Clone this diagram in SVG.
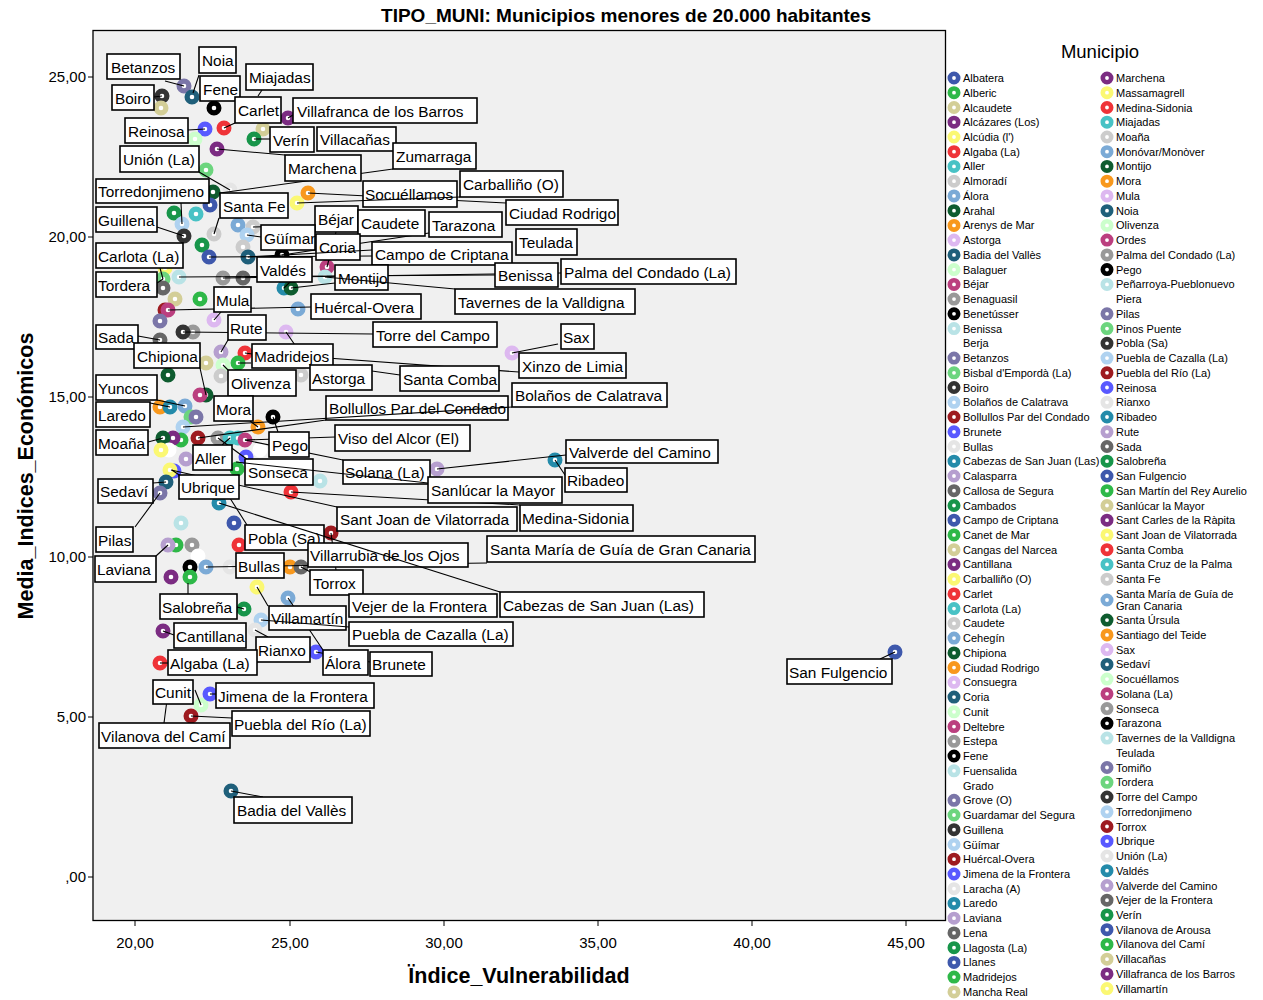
<svg xmlns="http://www.w3.org/2000/svg" width="1263" height="1000" viewBox="0 0 1263 1000">
<style>
text{font-family:"Liberation Sans",Arial,sans-serif;fill:#000}
.title{font-size:19px;font-weight:bold}
.axt{font-size:21.5px;font-weight:bold}
.tick{font-size:15px}
.lg{font-size:11px}
.lgt{font-size:18.5px}
.pt circle{fill:#fff;stroke-width:5.2}
.lgm circle{fill:#fff;stroke-width:4.6}
.lab rect{fill:#fff;stroke:#000;stroke-width:1.6}
.lab text{font-size:15.4px}
.con line{stroke:#000;stroke-width:1.1}
.c0{stroke:#3E58AC}.c1{stroke:#2EB848}.c2{stroke:#D3CE97}.c3{stroke:#7B2C82}.c4{stroke:#FBF873}
.c5{stroke:#EF3338}.c6{stroke:#48C2C5}.c7{stroke:#CCCCCC}.c8{stroke:#7BAAD6}.c9{stroke:#0E5C2F}
.c10{stroke:#F8981D}.c11{stroke:#DDB8F0}.c12{stroke:#1F5F7A}.c13{stroke:#CCFFCC}.c14{stroke:#BB3F7F}
.c15{stroke:#999999}.c16{stroke:#000000}.c17{stroke:#B9E3E6}.c18{stroke:#FFFFFF}.c19{stroke:#7B76A8}
.c20{stroke:#6CD57E}.c21{stroke:#333333}.c22{stroke:#AFD2F0}.c23{stroke:#9E1B20}.c24{stroke:#5959FF}
.c25{stroke:#E5E5E5}.c26{stroke:#248BAA}.c27{stroke:#B69FCF}.c28{stroke:#666666}.c29{stroke:#17954A}
</style>
<rect x="0" y="0" width="1263" height="1000" fill="#fff"/>
<text class="title" x="626" y="22" text-anchor="middle">TIPO_MUNI: Municipios menores de 20.000 habitantes</text>
<g id="frame">
<rect x="93" y="30.5" width="852.5" height="890" fill="#F0F0F0" stroke="#000" stroke-width="1.3"/>
<g stroke="#000" stroke-width="1">
<line x1="88" y1="77" x2="93" y2="77"/><line x1="88" y1="237" x2="93" y2="237"/><line x1="88" y1="397" x2="93" y2="397"/>
<line x1="88" y1="557" x2="93" y2="557"/><line x1="88" y1="717" x2="93" y2="717"/><line x1="88" y1="877" x2="93" y2="877"/>
<line x1="135" y1="921" x2="135" y2="926"/><line x1="290" y1="921" x2="290" y2="926"/><line x1="444" y1="921" x2="444" y2="926"/>
<line x1="598" y1="921" x2="598" y2="926"/><line x1="752" y1="921" x2="752" y2="926"/><line x1="906" y1="921" x2="906" y2="926"/>
</g>
<g class="tick" text-anchor="end">
<text x="86" y="82">25,00</text><text x="86" y="242">20,00</text><text x="86" y="402">15,00</text>
<text x="86" y="562">10,00</text><text x="86" y="722">5,00</text><text x="86" y="882">,00</text>
</g>
<g class="tick" text-anchor="middle">
<text x="135" y="948">20,00</text><text x="290" y="948">25,00</text><text x="444" y="948">30,00</text>
<text x="598" y="948">35,00</text><text x="752" y="948">40,00</text><text x="906" y="948">45,00</text>
</g>
<text class="axt" x="519" y="983" text-anchor="middle">Ïndice_Vulnerabilidad</text>
<text class="axt" x="0" y="0" text-anchor="middle" transform="translate(33,476) rotate(-90)">Media_Indices_Económicos</text>
</g>
<g id="points" class="pt">
<circle cx="184" cy="86" r="4.9" class="c19"/><circle cx="192" cy="97" r="4.9" class="c12"/><circle cx="162" cy="96" r="4.9" class="c21"/>
<circle cx="161" cy="108" r="4.9" class="c2"/><circle cx="214" cy="108" r="4.9" class="c16"/><circle cx="205" cy="129" r="4.9" class="c24"/>
<circle cx="224" cy="128" r="4.9" class="c5"/><circle cx="195" cy="139" r="4.9" class="c13"/><circle cx="263" cy="129" r="4.9" class="c2"/>
<circle cx="254" cy="139" r="4.9" class="c29"/><circle cx="288" cy="118" r="4.9" class="c3"/><circle cx="217" cy="149" r="4.9" class="c3"/>
<circle cx="206" cy="170" r="4.9" class="c20"/><circle cx="230" cy="190" r="4.9" class="c25"/><circle cx="213" cy="192" r="4.9" class="c9"/>
<circle cx="210" cy="205" r="4.9" class="c0"/><circle cx="174" cy="213" r="4.9" class="c29"/><circle cx="196" cy="214" r="4.9" class="c6"/>
<circle cx="182" cy="224" r="4.9" class="c22"/><circle cx="184" cy="236" r="4.9" class="c21"/><circle cx="214" cy="234" r="4.9" class="c7"/>
<circle cx="238" cy="225" r="4.9" class="c8"/><circle cx="253" cy="227" r="4.9" class="c7"/><circle cx="247" cy="235" r="4.9" class="c22"/>
<circle cx="243" cy="247" r="4.9" class="c7"/><circle cx="248" cy="257" r="4.9" class="c12"/><circle cx="282" cy="255" r="4.9" class="c16"/>
<circle cx="202" cy="245" r="4.9" class="c29"/><circle cx="209" cy="257" r="4.9" class="c0"/><circle cx="297" cy="203" r="4.9" class="c4"/>
<circle cx="308" cy="193" r="4.9" class="c10"/><circle cx="327" cy="267" r="4.9" class="c14"/><circle cx="325" cy="277" r="4.9" class="c17"/>
<circle cx="284" cy="288" r="4.9" class="c26"/><circle cx="291" cy="288" r="4.9" class="c9"/><circle cx="223" cy="278" r="4.9" class="c15"/>
<circle cx="243" cy="278" r="4.9" class="c28"/><circle cx="179" cy="277" r="4.9" class="c17"/><circle cx="165" cy="268" r="4.9" class="c4"/>
<circle cx="163" cy="279" r="4.9" class="c20"/><circle cx="163" cy="288" r="4.9" class="c28"/><circle cx="175" cy="299" r="4.9" class="c2"/>
<circle cx="200" cy="299" r="4.9" class="c1"/><circle cx="165" cy="310" r="4.9" class="c23"/><circle cx="168" cy="310" r="4.9" class="c14"/>
<circle cx="160" cy="321" r="4.9" class="c19"/><circle cx="214" cy="320" r="4.9" class="c11"/><circle cx="298" cy="309" r="4.9" class="c8"/>
<circle cx="193" cy="332" r="4.9" class="c15"/><circle cx="183" cy="332" r="4.9" class="c21"/><circle cx="160" cy="340" r="4.9" class="c28"/>
<circle cx="286" cy="332" r="4.9" class="c11"/><circle cx="221" cy="352" r="4.9" class="c27"/><circle cx="245" cy="353" r="4.9" class="c5"/>
<circle cx="238" cy="363" r="4.9" class="c1"/><circle cx="223" cy="365" r="4.9" class="c13"/><circle cx="206" cy="363" r="4.9" class="c2"/>
<circle cx="221" cy="376" r="4.9" class="c7"/><circle cx="301" cy="375" r="4.9" class="c7"/><circle cx="168" cy="375" r="4.9" class="c9"/>
<circle cx="206" cy="395" r="4.9" class="c9"/><circle cx="200" cy="395" r="4.9" class="c14"/><circle cx="160" cy="407" r="4.9" class="c10"/>
<circle cx="170" cy="407" r="4.9" class="c26"/><circle cx="185" cy="406" r="4.9" class="c8"/><circle cx="191" cy="417" r="4.9" class="c20"/>
<circle cx="196" cy="417" r="4.9" class="c19"/><circle cx="183" cy="427" r="4.9" class="c22"/><circle cx="258" cy="427" r="4.9" class="c10"/>
<circle cx="273" cy="417" r="4.9" class="c16"/><circle cx="218" cy="438" r="4.9" class="c15"/><circle cx="230" cy="438" r="4.9" class="c6"/>
<circle cx="238" cy="438" r="4.9" class="c6"/><circle cx="245" cy="440" r="4.9" class="c14"/><circle cx="198" cy="438" r="4.9" class="c23"/>
<circle cx="181" cy="440" r="4.9" class="c1"/><circle cx="173" cy="438" r="4.9" class="c3"/><circle cx="163" cy="438" r="4.9" class="c9"/>
<circle cx="169" cy="450" r="4.9" class="c18"/><circle cx="161" cy="450" r="4.9" class="c4"/><circle cx="186" cy="459" r="4.9" class="c27"/>
<circle cx="246" cy="457" r="4.9" class="c24"/><circle cx="260" cy="450" r="4.9" class="c18"/><circle cx="237" cy="469" r="4.9" class="c1"/>
<circle cx="174" cy="471" r="4.9" class="c24"/><circle cx="170" cy="470" r="4.9" class="c4"/><circle cx="166" cy="482" r="4.9" class="c12"/>
<circle cx="160" cy="493" r="4.9" class="c19"/><circle cx="320" cy="481" r="4.9" class="c17"/><circle cx="291" cy="492" r="4.9" class="c5"/>
<circle cx="219" cy="503" r="4.9" class="c26"/><circle cx="234" cy="523" r="4.9" class="c0"/><circle cx="181" cy="523" r="4.9" class="c17"/>
<circle cx="331" cy="533" r="4.9" class="c23"/><circle cx="239" cy="545" r="4.9" class="c5"/><circle cx="176" cy="545" r="4.9" class="c1"/>
<circle cx="168" cy="545" r="4.9" class="c27"/><circle cx="192" cy="545" r="4.9" class="c15"/><circle cx="198" cy="556" r="4.9" class="c18"/>
<circle cx="190" cy="567" r="4.9" class="c16"/><circle cx="206" cy="567" r="4.9" class="c8"/><circle cx="230" cy="567" r="4.9" class="c25"/>
<circle cx="290" cy="567" r="4.9" class="c10"/><circle cx="301" cy="567" r="4.9" class="c28"/><circle cx="171" cy="577" r="4.9" class="c3"/>
<circle cx="190" cy="577" r="4.9" class="c1"/><circle cx="257" cy="587" r="4.9" class="c4"/><circle cx="288" cy="598" r="4.9" class="c8"/>
<circle cx="244" cy="609" r="4.9" class="c29"/><circle cx="261" cy="620" r="4.9" class="c22"/><circle cx="255" cy="630" r="4.9" class="c25"/>
<circle cx="163" cy="631" r="4.9" class="c3"/><circle cx="316" cy="652" r="4.9" class="c24"/><circle cx="160" cy="663" r="4.9" class="c5"/>
<circle cx="201" cy="705" r="4.9" class="c13"/><circle cx="210" cy="694" r="4.9" class="c24"/><circle cx="191" cy="716" r="4.9" class="c23"/>
<circle cx="231" cy="791" r="4.9" class="c12"/><circle cx="895" cy="652" r="4.9" class="c0"/><circle cx="555" cy="460" r="4.9" class="c26"/>
<circle cx="437" cy="469" r="4.9" class="c27"/><circle cx="512" cy="353" r="4.9" class="c11"/>
</g>
<g id="connectors" class="con">
<line x1="165" y1="81" x2="184" y2="86"/><line x1="199" y1="75" x2="193" y2="93"/><line x1="154" y1="97" x2="162" y2="96"/>
<line x1="262" y1="90" x2="258" y2="96"/><line x1="235" y1="123" x2="224" y2="128"/><line x1="288" y1="118" x2="293" y2="115"/>
<line x1="188" y1="130" x2="205" y2="129"/><line x1="270" y1="139" x2="254" y2="139"/><line x1="217" y1="149" x2="285" y2="155"/>
<line x1="220" y1="193" x2="393" y2="169"/><line x1="199" y1="172" x2="230" y2="190"/><line x1="181" y1="203" x2="182" y2="224"/>
<line x1="219" y1="218" x2="214" y2="234"/><line x1="157" y1="227" x2="184" y2="236"/><line x1="261" y1="237" x2="247" y2="235"/>
<line x1="336" y1="232" x2="327" y2="267"/><line x1="308" y1="193" x2="506" y2="203"/><line x1="253" y1="227" x2="358" y2="224"/>
<line x1="282" y1="255" x2="429" y2="233"/><line x1="209" y1="257" x2="372" y2="256"/><line x1="160" y1="268" x2="163" y2="279"/>
<line x1="284" y1="288" x2="290" y2="282"/><line x1="179" y1="277" x2="495" y2="275"/><line x1="223" y1="278" x2="561" y2="273"/>
<line x1="291" y1="288" x2="335" y2="283"/><line x1="157" y1="283" x2="163" y2="279"/><line x1="221" y1="312" x2="214" y2="320"/>
<line x1="168" y1="310" x2="311" y2="307"/><line x1="228" y1="340" x2="221" y2="352"/><line x1="183" y1="332" x2="373" y2="334"/>
<line x1="558" y1="344" x2="512" y2="353"/><line x1="138" y1="336" x2="160" y2="340"/><line x1="200" y1="368" x2="206" y2="395"/>
<line x1="251" y1="363" x2="238" y2="363"/><line x1="300" y1="356" x2="519" y2="372"/><line x1="286" y1="332" x2="310" y2="367"/>
<line x1="245" y1="353" x2="400" y2="375"/><line x1="228" y1="370" x2="223" y2="365"/><line x1="157" y1="400" x2="185" y2="406"/>
<line x1="150" y1="403" x2="170" y2="407"/><line x1="250" y1="421" x2="258" y2="427"/><line x1="148" y1="442" x2="163" y2="438"/>
<line x1="198" y1="438" x2="326" y2="420"/><line x1="273" y1="417" x2="278" y2="432"/><line x1="245" y1="440" x2="335" y2="437"/>
<line x1="437" y1="469" x2="566" y2="455"/><line x1="555" y1="460" x2="565" y2="475"/><line x1="222" y1="445" x2="230" y2="438"/>
<line x1="218" y1="438" x2="248" y2="460"/><line x1="245" y1="440" x2="343" y2="460"/><line x1="172" y1="470" x2="182" y2="477"/>
<line x1="153" y1="483" x2="166" y2="482"/><line x1="171" y1="470" x2="337" y2="507"/><line x1="291" y1="492" x2="520" y2="505"/>
<line x1="228" y1="495" x2="247" y2="525"/><line x1="135" y1="527" x2="160" y2="493"/><line x1="206" y1="567" x2="487" y2="563"/>
<line x1="156" y1="556" x2="168" y2="545"/><line x1="331" y1="533" x2="336" y2="570"/><line x1="301" y1="567" x2="352" y2="594"/>
<line x1="188" y1="583" x2="188" y2="594"/><line x1="257" y1="587" x2="268" y2="606"/><line x1="255" y1="630" x2="268" y2="637"/>
<line x1="163" y1="631" x2="174" y2="635"/><line x1="160" y1="663" x2="168" y2="663"/><line x1="288" y1="598" x2="323" y2="650"/>
<line x1="316" y1="652" x2="370" y2="662"/><line x1="195" y1="690" x2="201" y2="705"/><line x1="210" y1="694" x2="216" y2="694"/>
<line x1="191" y1="716" x2="232" y2="718"/><line x1="167" y1="700" x2="164" y2="723"/><line x1="231" y1="791" x2="263" y2="797"/>
<line x1="895" y1="652" x2="880" y2="659"/><line x1="244" y1="609" x2="237" y2="607"/>
</g>
<g id="labels" class="lab">
<g id="l-betanzos"><rect x="107" y="54" width="73" height="25"/><text x="111" y="72.5">Betanzos</text></g>
<g id="l-noia"><rect x="199" y="47" width="37" height="26"/><text x="202" y="66">Noia</text></g>
<g id="l-fene"><rect x="200" y="76" width="40" height="25"/><text x="203" y="94.5">Fene</text></g>
<g id="l-miajadas"><rect x="246" y="64" width="67" height="26"/><text x="249" y="83">Miajadas</text></g>
<g id="l-boiro"><rect x="112" y="85" width="42" height="25"/><text x="115" y="103.5">Boiro</text></g>
<g id="l-carlet"><rect x="235" y="97" width="46" height="26"/><text x="238" y="116">Carlet</text></g>
<g id="l-villafranca"><rect x="293" y="98" width="184" height="25"/><text x="297" y="116.5">Villafranca de los Barros</text></g>
<g id="l-reinosa"><rect x="125" y="118" width="63" height="25"/><text x="128" y="136.5">Reinosa</text></g>
<g id="l-verin"><rect x="270" y="127" width="44" height="25"/><text x="273" y="145.5">Verín</text></g>
<g id="l-villacanas"><rect x="317" y="127" width="79" height="24"/><text x="320" y="145">Villacañas</text></g>
<g id="l-zumarraga"><rect x="393" y="143" width="83" height="26"/><text x="396" y="162">Zumarraga</text></g>
<g id="l-union"><rect x="120" y="146" width="79" height="26"/><text x="123" y="165">Unión (La)</text></g>
<g id="l-marchena"><rect x="285" y="155" width="76" height="26"/><text x="288" y="174">Marchena</text></g>
<g id="l-carballino"><rect x="460" y="171" width="103" height="26"/><text x="463" y="190">Carballiño (O)</text></g>
<g id="l-torredonjimeno"><rect x="96" y="179" width="113" height="24"/><text x="98" y="197">Torredonjimeno</text></g>
<g id="l-socuellamos"><rect x="363" y="181" width="94" height="26"/><text x="365" y="200">Socuéllamos</text></g>
<g id="l-santafe"><rect x="220" y="193" width="68" height="25"/><text x="223" y="211.5">Santa Fe</text></g>
<g id="l-ciudadrodrigo"><rect x="506" y="200" width="112" height="25"/><text x="509" y="218.5">Ciudad Rodrigo</text></g>
<g id="l-bejar"><rect x="315" y="206" width="43" height="26"/><text x="318" y="225">Béjar</text></g>
<g id="l-guillena"><rect x="96" y="207" width="61" height="25"/><text x="98" y="225.5">Guillena</text></g>
<g id="l-caudete"><rect x="358" y="210" width="67" height="26"/><text x="361" y="229">Caudete</text></g>
<g id="l-tarazona"><rect x="429" y="212" width="73" height="25"/><text x="432" y="230.5">Tarazona</text></g>
<g id="l-guimar"><rect x="261" y="225" width="54" height="25"/><text x="264" y="243.5">Güímar</text></g>
<g id="l-teulada"><rect x="516" y="229" width="61" height="26"/><text x="519" y="248">Teulada</text></g>
<g id="l-coria"><rect x="316" y="234" width="44" height="26"/><text x="319" y="253">Coria</text></g>
<g id="l-campo"><rect x="372" y="242" width="140" height="23"/><text x="375" y="259.5">Campo de Criptana</text></g>
<g id="l-carlota"><rect x="96" y="243" width="87" height="25"/><text x="98" y="261.5">Carlota (La)</text></g>
<g id="l-valdes"><rect x="257" y="257" width="55" height="25"/><text x="260" y="275.5">Valdés</text></g>
<g id="l-palma"><rect x="561" y="259" width="175" height="25"/><text x="564" y="277.5">Palma del Condado (La)</text></g>
<g id="l-benissa"><rect x="495" y="263" width="63" height="24"/><text x="498" y="281">Benissa</text></g>
<g id="l-montijo"><rect x="335" y="265" width="53" height="25"/><text x="338" y="283.5">Montijo</text></g>
<g id="l-tordera"><rect x="96" y="272" width="61" height="25"/><text x="98" y="290.5">Tordera</text></g>
<g id="l-mula"><rect x="214" y="287" width="37" height="25"/><text x="216" y="305.5">Mula</text></g>
<g id="l-tavernes"><rect x="455" y="289" width="180" height="25"/><text x="458" y="307.5">Tavernes de la Valldigna</text></g>
<g id="l-huercal"><rect x="311" y="294" width="110" height="25"/><text x="314" y="312.5">Huércal-Overa</text></g>
<g id="l-rute"><rect x="228" y="315" width="38" height="25"/><text x="230" y="333.5">Rute</text></g>
<g id="l-torredelcampo"><rect x="373" y="322" width="124" height="25"/><text x="376" y="340.5">Torre del Campo</text></g>
<g id="l-sax"><rect x="561" y="324" width="33" height="25"/><text x="563" y="342.5">Sax</text></g>
<g id="l-sada"><rect x="96" y="325" width="42" height="24"/><text x="98" y="343">Sada</text></g>
<g id="l-chipiona"><rect x="134" y="343" width="66" height="25"/><text x="137" y="361.5">Chipiona</text></g>
<g id="l-madridejos"><rect x="252" y="344" width="81" height="24"/><text x="254" y="362">Madridejos</text></g>
<g id="l-xinzo"><rect x="519" y="353" width="107" height="25"/><text x="522" y="371.5">Xinzo de Limia</text></g>
<g id="l-astorga"><rect x="310" y="365" width="62" height="25"/><text x="312" y="383.5">Astorga</text></g>
<g id="l-santacomba"><rect x="400" y="366" width="99" height="25"/><text x="403" y="384.5">Santa Comba</text></g>
<g id="l-olivenza"><rect x="228" y="370" width="68" height="26"/><text x="231" y="389">Olivenza</text></g>
<g id="l-yuncos"><rect x="96" y="375" width="61" height="25"/><text x="98" y="393.5">Yuncos</text></g>
<g id="l-bolanos"><rect x="512" y="383" width="155" height="24"/><text x="515" y="401">Bolaños de Calatrava</text></g>
<g id="l-bollullos"><rect x="326" y="396" width="182" height="24"/><text x="329" y="414">Bollullos Par del Condado</text></g>
<g id="l-mora"><rect x="214" y="396" width="39" height="25"/><text x="216" y="414.5">Mora</text></g>
<g id="l-laredo"><rect x="96" y="402" width="54" height="25"/><text x="98" y="420.5">Laredo</text></g>
<g id="l-viso"><rect x="335" y="425" width="135" height="26"/><text x="338" y="444">Viso del Alcor (El)</text></g>
<g id="l-moana"><rect x="96" y="430" width="52" height="25"/><text x="98" y="448.5">Moaña</text></g>
<g id="l-pego"><rect x="269" y="432" width="40" height="25"/><text x="272" y="450.5">Pego</text></g>
<g id="l-valverde"><rect x="566" y="440" width="152" height="23"/><text x="569" y="457.5">Valverde del Camino</text></g>
<g id="l-aller"><rect x="193" y="445" width="39" height="25"/><text x="195" y="463.5">Aller</text></g>
<g id="l-sonseca"><rect x="245" y="459" width="68" height="26"/><text x="248" y="478">Sonseca</text></g>
<g id="l-solana"><rect x="343" y="460" width="87" height="24"/><text x="345" y="478">Solana (La)</text></g>
<g id="l-ribadeo"><rect x="565" y="468" width="62" height="24"/><text x="567" y="486">Ribadeo</text></g>
<g id="l-ubrique"><rect x="179" y="475" width="60" height="24"/><text x="181" y="493">Ubrique</text></g>
<g id="l-sedavi"><rect x="98" y="479" width="55" height="24"/><text x="100" y="497">Sedaví</text></g>
<g id="l-sanlucar"><rect x="428" y="477" width="134" height="26"/><text x="431" y="496">Sanlúcar la Mayor</text></g>
<g id="l-santjoan"><rect x="337" y="507" width="180" height="24"/><text x="340" y="525">Sant Joan de Vilatorrada</text></g>
<g id="l-medina"><rect x="520" y="505" width="113" height="26"/><text x="522" y="524">Medina-Sidonia</text></g>
<g id="l-pobla"><rect x="245" y="525" width="79" height="25"/><text x="248" y="543.5">Pobla (Sa)</text></g>
<g id="l-pilas"><rect x="96" y="527" width="37" height="25"/><text x="98" y="545.5">Pilas</text></g>
<g id="l-santamaria"><rect x="487" y="536" width="268" height="26"/><text x="490" y="555">Santa María de Guía de Gran Canaria</text></g>
<g id="l-villarrubia"><rect x="308" y="543" width="160" height="24"/><text x="310" y="561">Villarrubia de los Ojos</text></g>
<g id="l-bullas"><rect x="236" y="553" width="48" height="25"/><text x="238" y="571.5">Bullas</text></g>
<g id="l-laviana"><rect x="95" y="556" width="61" height="26"/><text x="97" y="575">Laviana</text></g>
<g id="l-torrox"><rect x="310" y="570" width="53" height="25"/><text x="313" y="588.5">Torrox</text></g>
<g id="l-cabezas"><rect x="500" y="592" width="204" height="25"/><text x="503" y="610.5">Cabezas de San Juan (Las)</text></g>
<g id="l-vejer"><rect x="349" y="594" width="148" height="23"/><text x="352" y="611.5">Vejer de la Frontera</text></g>
<g id="l-salobrena"><rect x="160" y="594" width="77" height="25"/><text x="162" y="612.5">Salobreña</text></g>
<g id="l-villamartin"><rect x="269" y="606" width="77" height="24"/><text x="271" y="624">Villamartín</text></g>
<g id="l-pueblacazalla"><rect x="349" y="622" width="164" height="24"/><text x="352" y="640">Puebla de Cazalla (La)</text></g>
<g id="l-cantillana"><rect x="174" y="623" width="72" height="25"/><text x="176" y="641.5">Cantillana</text></g>
<g id="l-rianxo"><rect x="256" y="637" width="54" height="25"/><text x="258" y="655.5">Rianxo</text></g>
<g id="l-alora"><rect x="323" y="650" width="45" height="25"/><text x="325" y="668.5">Álora</text></g>
<g id="l-brunete"><rect x="370" y="652" width="62" height="24"/><text x="372" y="670">Brunete</text></g>
<g id="l-algaba"><rect x="168" y="650" width="89" height="25"/><text x="170" y="668.5">Algaba (La)</text></g>
<g id="l-sanfulgencio"><rect x="787" y="659" width="105" height="25"/><text x="789" y="677.5">San Fulgencio</text></g>
<g id="l-cunit"><rect x="153" y="680" width="40" height="24"/><text x="155" y="698">Cunit</text></g>
<g id="l-jimena"><rect x="216" y="683" width="158" height="25"/><text x="218" y="701.5">Jimena de la Frontera</text></g>
<g id="l-pueblario"><rect x="232" y="711" width="138" height="25"/><text x="234" y="729.5">Puebla del Río (La)</text></g>
<g id="l-vilanovacami"><rect x="99" y="723" width="131" height="25"/><text x="101" y="741.5">Vilanova del Camí</text></g>
<g id="l-badia"><rect x="234" y="797" width="118" height="26"/><text x="237" y="816">Badia del Vallès</text></g>
</g>
<g id="connectors-over" class="con">
<line x1="297" y1="203" x2="460" y2="197"/><line x1="183" y1="427" x2="512" y2="407"/><line x1="325" y1="277" x2="455" y2="289"/>
<line x1="261" y1="620" x2="349" y2="627"/><line x1="219" y1="503" x2="500" y2="592"/><line x1="236" y1="462" x2="428" y2="483"/>
<line x1="248" y1="257" x2="372" y2="250"/>
</g>
<g id="legend">
<text class="lgt" x="1100" y="58" text-anchor="middle">Municipio</text>
<g class="lgm">
<circle cx="954" cy="78.0" r="4.2" class="c0"/><circle cx="954" cy="92.7" r="4.2" class="c1"/><circle cx="954" cy="107.5" r="4.2" class="c2"/><circle cx="954" cy="122.2" r="4.2" class="c3"/><circle cx="954" cy="137.0" r="4.2" class="c4"/>
<circle cx="954" cy="151.7" r="4.2" class="c5"/><circle cx="954" cy="166.4" r="4.2" class="c6"/><circle cx="954" cy="181.2" r="4.2" class="c7"/><circle cx="954" cy="195.9" r="4.2" class="c8"/><circle cx="954" cy="210.7" r="4.2" class="c9"/>
<circle cx="954" cy="225.4" r="4.2" class="c10"/><circle cx="954" cy="240.1" r="4.2" class="c11"/><circle cx="954" cy="254.9" r="4.2" class="c12"/><circle cx="954" cy="269.6" r="4.2" class="c13"/><circle cx="954" cy="284.4" r="4.2" class="c14"/>
<circle cx="954" cy="299.1" r="4.2" class="c15"/><circle cx="954" cy="313.8" r="4.2" class="c16"/><circle cx="954" cy="328.6" r="4.2" class="c17"/><circle cx="954" cy="343.3" r="4.2" class="c18"/><circle cx="954" cy="358.1" r="4.2" class="c19"/>
<circle cx="954" cy="372.8" r="4.2" class="c20"/><circle cx="954" cy="387.5" r="4.2" class="c21"/><circle cx="954" cy="402.3" r="4.2" class="c22"/><circle cx="954" cy="417.0" r="4.2" class="c23"/><circle cx="954" cy="431.8" r="4.2" class="c24"/>
<circle cx="954" cy="446.5" r="4.2" class="c25"/><circle cx="954" cy="461.2" r="4.2" class="c26"/><circle cx="954" cy="476.0" r="4.2" class="c27"/><circle cx="954" cy="490.7" r="4.2" class="c28"/><circle cx="954" cy="505.5" r="4.2" class="c29"/>
<circle cx="954" cy="520.2" r="4.2" class="c0"/><circle cx="954" cy="534.9" r="4.2" class="c1"/><circle cx="954" cy="549.7" r="4.2" class="c2"/><circle cx="954" cy="564.4" r="4.2" class="c3"/><circle cx="954" cy="579.2" r="4.2" class="c4"/>
<circle cx="954" cy="593.9" r="4.2" class="c5"/><circle cx="954" cy="608.6" r="4.2" class="c6"/><circle cx="954" cy="623.4" r="4.2" class="c7"/><circle cx="954" cy="638.1" r="4.2" class="c8"/><circle cx="954" cy="652.9" r="4.2" class="c9"/>
<circle cx="954" cy="667.6" r="4.2" class="c10"/><circle cx="954" cy="682.3" r="4.2" class="c11"/><circle cx="954" cy="697.1" r="4.2" class="c12"/><circle cx="954" cy="711.8" r="4.2" class="c13"/><circle cx="954" cy="726.6" r="4.2" class="c14"/>
<circle cx="954" cy="741.3" r="4.2" class="c15"/><circle cx="954" cy="756.0" r="4.2" class="c16"/><circle cx="954" cy="770.8" r="4.2" class="c17"/><circle cx="954" cy="785.5" r="4.2" class="c18"/><circle cx="954" cy="800.3" r="4.2" class="c19"/>
<circle cx="954" cy="815.0" r="4.2" class="c20"/><circle cx="954" cy="829.7" r="4.2" class="c21"/><circle cx="954" cy="844.5" r="4.2" class="c22"/><circle cx="954" cy="859.2" r="4.2" class="c23"/><circle cx="954" cy="874.0" r="4.2" class="c24"/>
<circle cx="954" cy="888.7" r="4.2" class="c25"/><circle cx="954" cy="903.4" r="4.2" class="c26"/><circle cx="954" cy="918.2" r="4.2" class="c27"/><circle cx="954" cy="932.9" r="4.2" class="c28"/><circle cx="954" cy="947.7" r="4.2" class="c29"/>
<circle cx="954" cy="962.4" r="4.2" class="c0"/><circle cx="954" cy="977.1" r="4.2" class="c1"/><circle cx="954" cy="991.9" r="4.2" class="c2"/>
<circle cx="1107" cy="78.0" r="4.2" class="c3"/><circle cx="1107" cy="92.7" r="4.2" class="c4"/><circle cx="1107" cy="107.5" r="4.2" class="c5"/><circle cx="1107" cy="122.2" r="4.2" class="c6"/><circle cx="1107" cy="137.0" r="4.2" class="c7"/>
<circle cx="1107" cy="151.7" r="4.2" class="c8"/><circle cx="1107" cy="166.4" r="4.2" class="c9"/><circle cx="1107" cy="181.2" r="4.2" class="c10"/><circle cx="1107" cy="195.9" r="4.2" class="c11"/><circle cx="1107" cy="210.7" r="4.2" class="c12"/>
<circle cx="1107" cy="225.4" r="4.2" class="c13"/><circle cx="1107" cy="240.1" r="4.2" class="c14"/><circle cx="1107" cy="254.9" r="4.2" class="c15"/><circle cx="1107" cy="269.6" r="4.2" class="c16"/><circle cx="1107" cy="284.4" r="4.2" class="c17"/>
<circle cx="1107" cy="299.1" r="4.2" class="c18"/><circle cx="1107" cy="313.8" r="4.2" class="c19"/><circle cx="1107" cy="328.6" r="4.2" class="c20"/><circle cx="1107" cy="343.3" r="4.2" class="c21"/><circle cx="1107" cy="358.1" r="4.2" class="c22"/>
<circle cx="1107" cy="372.8" r="4.2" class="c23"/><circle cx="1107" cy="387.5" r="4.2" class="c24"/><circle cx="1107" cy="402.3" r="4.2" class="c25"/><circle cx="1107" cy="417.0" r="4.2" class="c26"/><circle cx="1107" cy="431.8" r="4.2" class="c27"/>
<circle cx="1107" cy="446.5" r="4.2" class="c28"/><circle cx="1107" cy="461.2" r="4.2" class="c29"/><circle cx="1107" cy="476.0" r="4.2" class="c0"/><circle cx="1107" cy="490.7" r="4.2" class="c1"/><circle cx="1107" cy="505.5" r="4.2" class="c2"/>
<circle cx="1107" cy="520.2" r="4.2" class="c3"/><circle cx="1107" cy="534.9" r="4.2" class="c4"/><circle cx="1107" cy="549.7" r="4.2" class="c5"/><circle cx="1107" cy="564.4" r="4.2" class="c6"/><circle cx="1107" cy="579.2" r="4.2" class="c7"/>
<circle cx="1107" cy="600.0" r="4.2" class="c8"/><circle cx="1107" cy="620.1" r="4.2" class="c9"/><circle cx="1107" cy="634.9" r="4.2" class="c10"/><circle cx="1107" cy="649.6" r="4.2" class="c11"/><circle cx="1107" cy="664.4" r="4.2" class="c12"/>
<circle cx="1107" cy="679.1" r="4.2" class="c13"/><circle cx="1107" cy="693.8" r="4.2" class="c14"/><circle cx="1107" cy="708.6" r="4.2" class="c15"/><circle cx="1107" cy="723.3" r="4.2" class="c16"/><circle cx="1107" cy="738.1" r="4.2" class="c17"/>
<circle cx="1107" cy="752.8" r="4.2" class="c18"/><circle cx="1107" cy="767.5" r="4.2" class="c19"/><circle cx="1107" cy="782.3" r="4.2" class="c20"/><circle cx="1107" cy="797.0" r="4.2" class="c21"/><circle cx="1107" cy="811.8" r="4.2" class="c22"/>
<circle cx="1107" cy="826.5" r="4.2" class="c23"/><circle cx="1107" cy="841.2" r="4.2" class="c24"/><circle cx="1107" cy="856.0" r="4.2" class="c25"/><circle cx="1107" cy="870.7" r="4.2" class="c26"/><circle cx="1107" cy="885.5" r="4.2" class="c27"/>
<circle cx="1107" cy="900.2" r="4.2" class="c28"/><circle cx="1107" cy="914.9" r="4.2" class="c29"/><circle cx="1107" cy="929.7" r="4.2" class="c0"/><circle cx="1107" cy="944.4" r="4.2" class="c1"/><circle cx="1107" cy="959.2" r="4.2" class="c2"/>
<circle cx="1107" cy="973.9" r="4.2" class="c3"/><circle cx="1107" cy="988.6" r="4.2" class="c4"/>
</g>
<g class="lg">
<text x="963" y="82.0">Albatera</text><text x="963" y="96.7">Alberic</text><text x="963" y="111.5">Alcaudete</text><text x="963" y="126.2">Alcázares (Los)</text><text x="963" y="141.0">Alcúdia (l')</text>
<text x="963" y="155.7">Algaba (La)</text><text x="963" y="170.4">Aller</text><text x="963" y="185.2">Almoradí</text><text x="963" y="199.9">Álora</text><text x="963" y="214.7">Arahal</text>
<text x="963" y="229.4">Arenys de Mar</text><text x="963" y="244.1">Astorga</text><text x="963" y="258.9">Badia del Vallès</text><text x="963" y="273.6">Balaguer</text><text x="963" y="288.4">Béjar</text>
<text x="963" y="303.1">Benaguasil</text><text x="963" y="317.8">Benetússer</text><text x="963" y="332.6">Benissa</text><text x="963" y="347.3">Berja</text><text x="963" y="362.1">Betanzos</text>
<text x="963" y="376.8">Bisbal d'Empordà (La)</text><text x="963" y="391.5">Boiro</text><text x="963" y="406.3">Bolaños de Calatrava</text><text x="963" y="421.0">Bollullos Par del Condado</text><text x="963" y="435.8">Brunete</text>
<text x="963" y="450.5">Bullas</text><text x="963" y="465.2">Cabezas de San Juan (Las)</text><text x="963" y="480.0">Calasparra</text><text x="963" y="494.7">Callosa de Segura</text><text x="963" y="509.5">Cambados</text>
<text x="963" y="524.2">Campo de Criptana</text><text x="963" y="538.9">Canet de Mar</text><text x="963" y="553.7">Cangas del Narcea</text><text x="963" y="568.4">Cantillana</text><text x="963" y="583.2">Carballiño (O)</text>
<text x="963" y="597.9">Carlet</text><text x="963" y="612.6">Carlota (La)</text><text x="963" y="627.4">Caudete</text><text x="963" y="642.1">Cehegín</text><text x="963" y="656.9">Chipiona</text>
<text x="963" y="671.6">Ciudad Rodrigo</text><text x="963" y="686.3">Consuegra</text><text x="963" y="701.1">Coria</text><text x="963" y="715.8">Cunit</text><text x="963" y="730.6">Deltebre</text>
<text x="963" y="745.3">Estepa</text><text x="963" y="760.0">Fene</text><text x="963" y="774.8">Fuensalida</text><text x="963" y="789.5">Grado</text><text x="963" y="804.3">Grove (O)</text>
<text x="963" y="819.0">Guardamar del Segura</text><text x="963" y="833.7">Guillena</text><text x="963" y="848.5">Güímar</text><text x="963" y="863.2">Huércal-Overa</text><text x="963" y="878.0">Jimena de la Frontera</text>
<text x="963" y="892.7">Laracha (A)</text><text x="963" y="907.4">Laredo</text><text x="963" y="922.2">Laviana</text><text x="963" y="936.9">Lena</text><text x="963" y="951.7">Llagosta (La)</text>
<text x="963" y="966.4">Llanes</text><text x="963" y="981.1">Madridejos</text><text x="963" y="995.9">Mancha Real</text>
<text x="1116" y="82.0">Marchena</text><text x="1116" y="96.7">Massamagrell</text><text x="1116" y="111.5">Medina-Sidonia</text><text x="1116" y="126.2">Miajadas</text><text x="1116" y="141.0">Moaña</text>
<text x="1116" y="155.7">Monóvar/Monòver</text><text x="1116" y="170.4">Montijo</text><text x="1116" y="185.2">Mora</text><text x="1116" y="199.9">Mula</text><text x="1116" y="214.7">Noia</text>
<text x="1116" y="229.4">Olivenza</text><text x="1116" y="244.1">Ordes</text><text x="1116" y="258.9">Palma del Condado (La)</text><text x="1116" y="273.6">Pego</text><text x="1116" y="288.4">Peñarroya-Pueblonuevo</text>
<text x="1116" y="303.1">Piera</text><text x="1116" y="317.8">Pilas</text><text x="1116" y="332.6">Pinos Puente</text><text x="1116" y="347.3">Pobla (Sa)</text><text x="1116" y="362.1">Puebla de Cazalla (La)</text>
<text x="1116" y="376.8">Puebla del Río (La)</text><text x="1116" y="391.5">Reinosa</text><text x="1116" y="406.3">Rianxo</text><text x="1116" y="421.0">Ribadeo</text><text x="1116" y="435.8">Rute</text>
<text x="1116" y="450.5">Sada</text><text x="1116" y="465.2">Salobreña</text><text x="1116" y="480.0">San Fulgencio</text><text x="1116" y="494.7">San Martín del Rey Aurelio</text><text x="1116" y="509.5">Sanlúcar la Mayor</text>
<text x="1116" y="524.2">Sant Carles de la Ràpita</text><text x="1116" y="538.9">Sant Joan de Vilatorrada</text><text x="1116" y="553.7">Santa Comba</text><text x="1116" y="568.4">Santa Cruz de la Palma</text><text x="1116" y="583.2">Santa Fe</text>
<text x="1116" y="598.0">Santa María de Guía de</text><text x="1116" y="610.0">Gran Canaria</text>
<text x="1116" y="624.1">Santa Úrsula</text><text x="1116" y="638.9">Santiago del Teide</text><text x="1116" y="653.6">Sax</text><text x="1116" y="668.4">Sedaví</text>
<text x="1116" y="683.1">Socuéllamos</text><text x="1116" y="697.8">Solana (La)</text><text x="1116" y="712.6">Sonseca</text><text x="1116" y="727.3">Tarazona</text><text x="1116" y="742.1">Tavernes de la Valldigna</text>
<text x="1116" y="756.8">Teulada</text><text x="1116" y="771.5">Tomiño</text><text x="1116" y="786.3">Tordera</text><text x="1116" y="801.0">Torre del Campo</text><text x="1116" y="815.8">Torredonjimeno</text>
<text x="1116" y="830.5">Torrox</text><text x="1116" y="845.2">Ubrique</text><text x="1116" y="860.0">Unión (La)</text><text x="1116" y="874.7">Valdés</text><text x="1116" y="889.5">Valverde del Camino</text>
<text x="1116" y="904.2">Vejer de la Frontera</text><text x="1116" y="918.9">Verín</text><text x="1116" y="933.7">Vilanova de Arousa</text><text x="1116" y="948.4">Vilanova del Camí</text><text x="1116" y="963.2">Villacañas</text>
<text x="1116" y="977.9">Villafranca de los Barros</text><text x="1116" y="992.6">Villamartín</text>
</g>
</g>
</svg>
